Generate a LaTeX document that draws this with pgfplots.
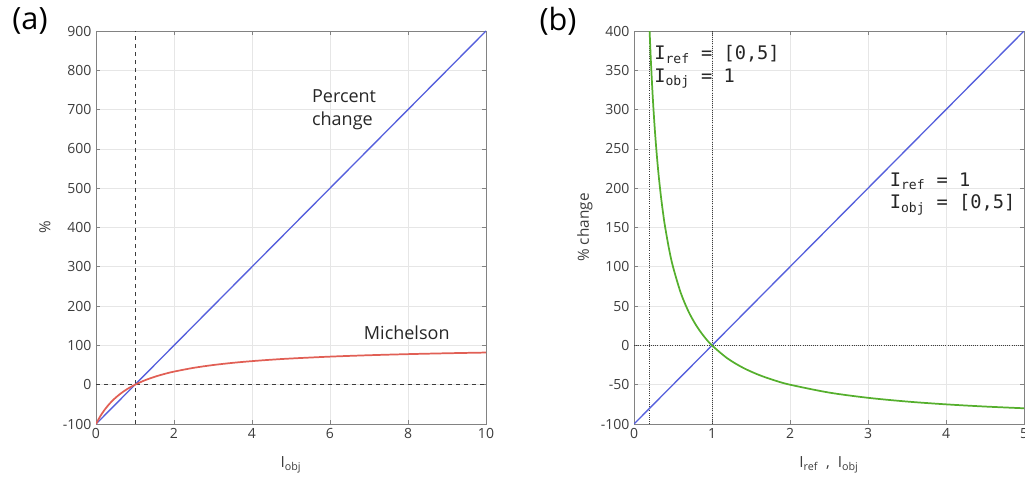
\documentclass[border=0pt]{standalone}
\usepackage{fontspec}
\setmainfont{Open Sans}
\setmonofont{DejaVu Sans Mono}
\usepackage{pgfplots}
\pgfplotsset{compat=1.18}
\definecolor{cblue}{RGB}{85,95,220}
\definecolor{cred}{RGB}{225,95,85}
\definecolor{cgreen}{RGB}{85,175,45}
\definecolor{axgray}{RGB}{130,130,130}
\definecolor{txtgray}{RGB}{60,60,60}
\definecolor{gridgray}{RGB}{230,230,230}
\pgfplotsset{
  myax/.style={
    scale only axis, width=292.5pt, height=294.75pt,
    anchor=south west,
    axis line style={axgray, line width=0.6pt},
    tick style={axgray, line width=0.5pt},
    tick align=inside, major tick length=3pt,
    grid=major, major grid style={gridgray, line width=0.5pt},
    tick label style={font=\fontsize{10.5}{12}\selectfont, text=txtgray},
    label style={font=\fontsize{11.5}{13}\selectfont, text=txtgray},
    /pgf/number format/assume math mode=true,
    xtick pos=both, ytick pos=both,
    clip=true,
  }
}
\begin{document}
\begin{tikzpicture}
\useasboundingbox (0,0) rectangle (768.75pt,362.25pt);
\node[font=\fontsize{23}{27}\selectfont] at (22.5pt,346.5pt) {(a)};
\node[font=\fontsize{23}{27}\selectfont] at (418.5pt,346.5pt) {(b)};
\begin{axis}[myax, at={(72pt,44.25pt)},
  xmin=0, xmax=10, ymin=-100, ymax=900,
  xtick={0,2,4,6,8,10}, ytick={-100,0,100,200,300,400,500,600,700,800,900},
  xlabel={I\textsubscript{obj}}, ylabel={\%},
  xlabel style={at={(axis description cs:0.5,-0.104)}, anchor=center},
  ylabel style={at={(axis description cs:-0.131,0.5)}, anchor=center},
]
\addplot[draw=txtgray, dashed, line width=0.7pt, forget plot] coordinates {(1,-100) (1,900)};
\addplot[draw=txtgray, dashed, line width=0.7pt, forget plot] coordinates {(0,0) (10,0)};
\addplot[cblue, line width=1.0pt] coordinates {(0,-100) (10,900)};
\addplot[cred, line width=1.3pt, smooth] coordinates {
(0,-100) (0.1,-81.82) (0.2,-66.67) (0.3,-53.85) (0.4,-42.86) (0.5,-33.33)
(0.6,-25) (0.7,-17.65) (0.8,-11.11) (0.9,-5.26) (1,0) (1.2,9.09) (1.4,16.67)
(1.6,23.08) (1.8,28.57) (2,33.33) (2.5,42.86) (3,50) (3.5,55.56) (4,60)
(4.5,63.64) (5,66.67) (6,71.43) (7,75) (8,77.78) (9,80) (10,81.82)};
\node[anchor=west, align=left, font=\fontsize{13.5}{17}\selectfont, text=black!85] at (axis cs:5.42,700) {Percent\\change};
\node[anchor=west, font=\fontsize{13.5}{17}\selectfont, text=black!85] at (axis cs:6.75,132) {Michelson};
\end{axis}
\begin{axis}[myax, at={(475.5pt,44.25pt)},
  xmin=0, xmax=5, ymin=-100, ymax=400,
  xtick={0,1,2,3,4,5}, ytick={-100,-50,0,50,100,150,200,250,300,350,400},
  xlabel={I\textsubscript{ref}\ \ ,\ \ I\textsubscript{obj}}, ylabel={\% change},
  xlabel style={at={(axis description cs:0.5,-0.104)}, anchor=center},
  ylabel style={at={(axis description cs:-0.126,0.5)}, anchor=center},
]
\addplot[draw=txtgray, densely dotted, line width=0.6pt, forget plot] coordinates {(0.2,-100) (0.2,400)};
\addplot[draw=txtgray, densely dotted, line width=0.6pt, forget plot] coordinates {(1,-100) (1,400)};
\addplot[draw=txtgray, densely dotted, line width=0.6pt, forget plot] coordinates {(0,0) (5,0)};
\addplot[cblue, line width=1.0pt] coordinates {(0,-100) (5,400)};
\addplot[cgreen, line width=1.3pt, smooth] coordinates {
(0.2,400) (0.21,376.19) (0.22,354.55) (0.24,316.67) (0.26,284.62) (0.28,257.14)
(0.3,233.33) (0.32,212.5) (0.35,185.71) (0.38,163.16) (0.4,150) (0.45,122.22)
(0.5,100) (0.6,66.67) (0.7,42.86) (0.8,25) (0.9,11.11) (1,0) (1.2,-16.67)
(1.4,-28.57) (1.6,-37.5) (1.8,-44.44) (2,-50) (2.5,-60) (3,-66.67)
(3.5,-71.43) (4,-75) (4.5,-77.78) (5,-80)};
\node[anchor=west, align=left, font=\fontsize{14}{17}\ttfamily, text=black!85] at (axis cs:0.2,354) {I\textsubscript{ref} = [0,5]\\I\textsubscript{obj} = 1};
\node[anchor=west, align=left, font=\fontsize{14}{17}\ttfamily, text=black!85] at (axis cs:3.22,193) {I\textsubscript{ref} = 1\\I\textsubscript{obj} = [0,5]};
\end{axis}
\end{tikzpicture}
\end{document}
